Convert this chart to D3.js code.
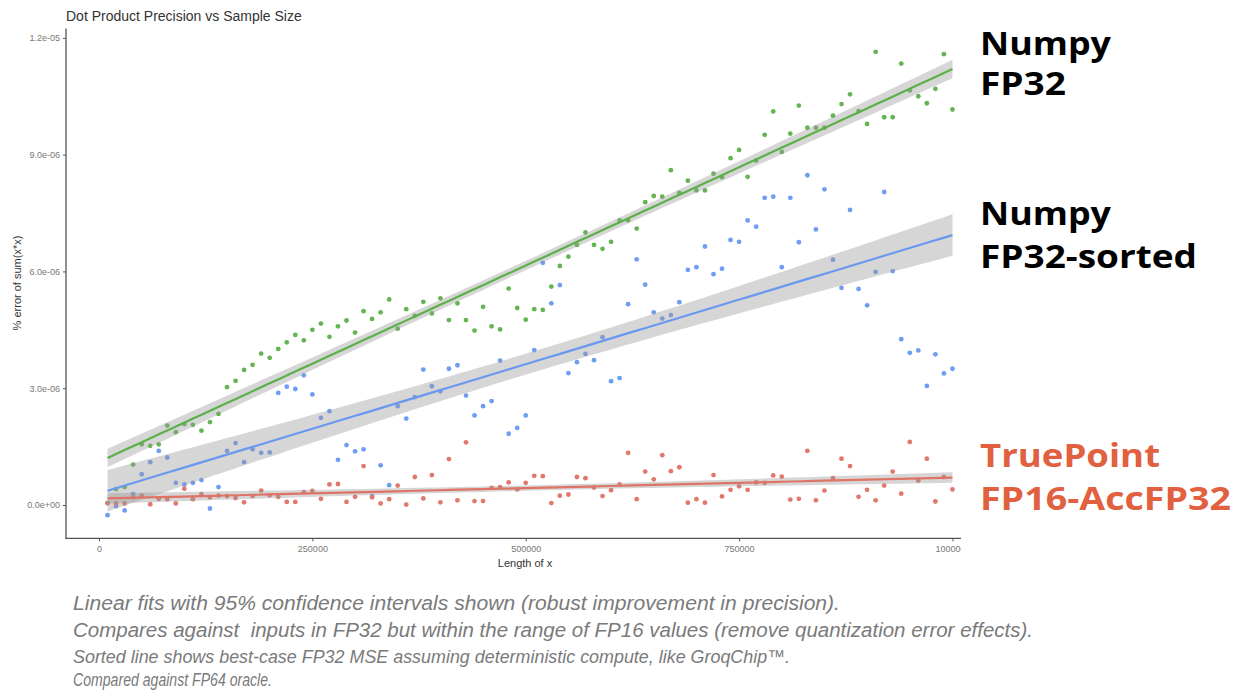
<!DOCTYPE html>
<html>
<head>
<meta charset="utf-8">
<script src="https://cdn.jsdelivr.net/npm/d3@7"></script>
<style>
  html, body { margin: 0; padding: 0; background: #fff; }
  svg { display: block; }
</style>
</head>
<body>
<svg id="chart" width="1238" height="690"></svg>
<script>
// ---------------- data ----------------
const sampleSizes = [10000,20000,30000,40000,50000,60000,70000,80000,90000,100000,
  110000,120000,130000,140000,150000,160000,170000,180000,190000,200000,
  210000,220000,230000,240000,250000,260000,270000,280000,290000,300000,
  310000,320000,330000,340000,350000,360000,370000,380000,390000,400000,
  410000,420000,430000,440000,450000,460000,470000,480000,490000,500000,
  510000,520000,530000,540000,550000,560000,570000,580000,590000,600000,
  610000,620000,630000,640000,650000,660000,670000,680000,690000,700000,
  710000,720000,730000,740000,750000,760000,770000,780000,790000,800000,
  810000,820000,830000,840000,850000,860000,870000,880000,890000,900000,
  910000,920000,930000,940000,950000,960000,970000,980000,990000,1000000];

// % error values, in units of 1e-06
const numpyFP32 = [0.05,0.41,0.46,1.04,1.56,1.52,1.56,2.04,1.87,2.08,
  2.06,1.91,2.13,2.34,3.03,3.19,3.47,3.60,3.89,3.78,
  4.01,4.18,4.37,4.23,4.50,4.66,4.32,4.59,4.74,4.43,
  4.98,4.78,4.95,5.28,4.53,5.03,4.86,5.22,4.92,5.31,
  4.75,5.18,4.75,4.48,5.09,4.59,4.51,5.56,5.06,4.76,
  5.03,5.01,5.61,6.14,6.38,6.68,7.00,6.68,6.58,6.76,
  7.31,7.31,7.10,7.78,7.94,7.92,8.60,8.02,8.33,8.08,
  8.08,8.51,8.42,8.91,9.12,8.43,8.85,9.51,10.11,9.07,
  9.54,10.26,9.69,9.69,9.69,10.00,10.30,10.55,10.12,9.79,
  11.64,9.96,9.96,11.34,10.65,10.50,10.32,10.69,11.58,10.16];

const numpyFP32Sorted = [-0.26,-0.03,-0.14,0.28,0.79,1.10,1.39,1.22,0.57,0.53,
  0.57,0.64,-0.09,0.46,1.39,1.59,1.10,1.43,1.34,1.35,
  2.88,3.04,2.98,3.33,2.84,2.24,2.41,1.16,1.54,1.38,
  1.43,0.23,1.02,0.51,2.54,2.22,2.77,3.48,3.05,2.92,
  3.50,3.59,2.81,2.30,2.54,2.67,3.71,1.83,1.98,2.30,
  3.98,6.22,5.18,5.65,3.39,3.67,3.88,3.72,4.31,3.18,
  3.26,5.16,6.31,5.66,4.95,4.79,4.88,5.21,6.04,6.11,
  6.64,5.93,6.07,6.81,6.76,7.31,7.15,7.89,7.92,6.11,
  7.89,6.75,8.47,7.08,8.11,6.30,5.58,7.58,5.55,5.13,
  5.99,8.04,6.01,4.26,3.91,3.97,3.06,3.87,3.38,3.50];

const truePoint = [0.05,0.04,0.04,0.20,0.24,0.02,0.16,0.15,0.04,0.42,
  0.15,0.28,0.20,0.24,0.23,0.18,0.07,0.23,0.37,0.25,
  0.21,0.08,0.08,0.33,0.36,0.16,0.53,0.54,0.08,0.21,
  1.00,0.20,0.04,0.15,0.50,0.01,0.72,0.17,0.77,0.07,
  1.18,0.12,1.61,0.10,0.10,0.44,0.46,0.58,0.40,0.57,
  0.75,0.74,0.05,0.24,0.27,0.72,0.69,0.45,0.23,0.38,
  0.53,1.34,0.15,0.86,0.66,1.28,0.87,0.97,0.06,0.15,
  0.06,0.77,0.22,0.39,0.48,0.39,0.58,0.57,0.76,0.73,
  0.14,0.16,1.39,0.12,0.37,0.69,1.19,1.00,0.21,0.39,
  0.12,0.50,0.86,0.29,1.62,0.63,1.19,0.09,0.72,0.40];

const yTickValues = [0, 3e-6, 6e-6, 9e-6, 1.2e-5];
const xTickValues = [0, 250000, 500000, 750000, 1000000];

const titleText = "Dot Product Precision vs Sample Size";
const xTitle = "Length of x";
const yTitle = "% error of sum(x*x)";
const sideLabels = [
  ["Numpy", "FP32"],
  ["Numpy", "FP32-sorted"],
  ["TruePoint", "FP16-AccFP32"]
];
const footnotes = [
  "Linear fits with 95% confidence intervals shown (robust improvement in precision).",
  "Compares against  inputs in FP32 but within the range of FP16 values (remove quantization error effects).",
  "Sorted line shows best-case FP32 MSE assuming deterministic compute, like GroqChip\u2122.",
  "Compared against FP64 oracle."
];

// ---------------- setup ----------------
const svg = d3.select("#chart");
const UNIT = 1e-6;

const x = d3.scaleLinear().domain([-39500, 1049500]).range([65.3, 994.7]);
const y = d3.scaleLinear().domain([-0.855e-6, 12.24e-6]).range([538.3, 28.5]);

const series = [
  {name: "numpy", values: numpyFP32, pt: "#64b453", line: "#5cb04a"},
  {name: "sorted", values: numpyFP32Sorted, pt: "#6e9df4", line: "#6a98f0"},
  {name: "truepoint", values: truePoint, pt: "#e0786c", line: "#df7466"}
];

// linear fit with 95% CI (like geom_smooth(method="lm"))
function linFit(xs, ys) {
  const n = xs.length;
  const xbar = d3.mean(xs), ybar = d3.mean(ys);
  let sxx = 0, sxy = 0;
  for (let i = 0; i < n; i++) { sxx += (xs[i]-xbar)**2; sxy += (xs[i]-xbar)*(ys[i]-ybar); }
  const b = sxy / sxx, a = ybar - b * xbar;
  let sse = 0;
  for (let i = 0; i < n; i++) sse += (ys[i] - (a + b*xs[i]))**2;
  const s = Math.sqrt(sse / (n - 2));
  const t = 1.9845;
  const grid = d3.range(80).map(i => d3.min(xs) + (d3.max(xs) - d3.min(xs)) * i / 79);
  return grid.map(gx => {
    const yh = a + b * gx;
    const se = s * Math.sqrt(1/n + (gx - xbar)**2 / sxx);
    return {x: gx, y: yh, lo: yh - t*se, hi: yh + t*se};
  });
}

svg.append("defs").append("clipPath").attr("id", "imgclip")
  .append("rect").attr("x", 0).attr("y", 0).attr("width", 961).attr("height", 690);

const plot = svg.append("g").attr("clip-path", "url(#imgclip)");

// points
series.forEach(s => {
  plot.append("g").selectAll("circle")
    .data(sampleSizes.map((sx, i) => ({x: sx, y: s.values[i] * UNIT})))
    .join("circle")
    .attr("cx", d => x(d.x))
    .attr("cy", d => y(d.y))
    .attr("r", 2.4)
    .attr("fill", s.pt);
});

// smooths
series.forEach(s => {
  const fit = linFit(sampleSizes, s.values.map(v => v * UNIT));
  plot.append("path").datum(fit)
    .attr("d", d3.area().x(d => x(d.x)).y0(d => y(d.lo)).y1(d => y(d.hi)))
    .attr("fill", "#999999").attr("fill-opacity", 0.4);
  plot.append("path").datum(fit)
    .attr("d", d3.line().x(d => x(d.x)).y(d => y(d.y)))
    .attr("fill", "none").attr("stroke", s.line).attr("stroke-width", 2.2);
});

// axes
function sciFmt(v) {
  if (v === 0) return "0.0e+00";
  const e = Math.floor(Math.log10(Math.abs(v)) + 1e-9);
  const m = v / Math.pow(10, e);
  return m.toFixed(1) + "e" + (e < 0 ? "-" : "+") + String(Math.abs(e)).padStart(2, "0");
}

const axisColor = "#555";
const yAxis = plot.append("g").attr("transform", "translate(66,0)")
  .call(d3.axisLeft(y).tickValues(yTickValues).tickFormat(sciFmt).tickSize(3).tickPadding(3));
const xAxis = plot.append("g").attr("transform", "translate(0,538.3)")
  .call(d3.axisBottom(x).tickValues(xTickValues).tickFormat(d3.format("d")).tickSize(3).tickPadding(4));

[yAxis, xAxis].forEach(g => {
  g.select(".domain").remove();
  g.selectAll(".tick line").attr("stroke", axisColor).attr("stroke-width", 1);
  g.selectAll(".tick text").attr("fill", "#777").attr("font-size", "9px")
    .attr("font-family", "Liberation Sans, Arial, sans-serif");
});

// axis lines (theme_classic)
plot.append("line").attr("x1", 66).attr("x2", 66).attr("y1", 28.5).attr("y2", 539)
  .attr("stroke", axisColor).attr("stroke-width", 1.3);
plot.append("line").attr("x1", 65.4).attr("x2", 994.7).attr("y1", 538.3).attr("y2", 538.3)
  .attr("stroke", axisColor).attr("stroke-width", 1.3);

// titles
svg.append("text").attr("x", 66).attr("y", 21).text(titleText)
  .attr("font-family", "Liberation Sans, Arial, sans-serif").attr("font-size", "14px").attr("fill", "#333");
svg.append("text").attr("x", 525).attr("y", 567).attr("text-anchor", "middle").text(xTitle)
  .attr("font-family", "Liberation Sans, Arial, sans-serif").attr("font-size", "11px").attr("fill", "#333");
svg.append("text").attr("transform", "translate(21,283) rotate(-90)").attr("text-anchor", "middle").text(yTitle)
  .attr("font-family", "Liberation Sans, Arial, sans-serif").attr("font-size", "11px").attr("fill", "#333");

// side labels
const sideY = [[55, 95], [225, 268], [467, 510]];
const sideW = [[131, 86], [131, 217], [180, 251]];
const sideColor = ["#000", "#000", "#e0603f"];
sideLabels.forEach((lines, i) => {
  lines.forEach((t, j) => {
    svg.append("text").attr("x", 980).attr("y", sideY[i][j]).text(t)
      .attr("font-family", "Open Sans, DejaVu Sans, sans-serif").attr("font-weight", 700)
      .attr("font-size", "32px").attr("fill", sideColor[i])
      .attr("textLength", sideW[i][j]).attr("lengthAdjust", "spacingAndGlyphs");
  });
});

// footnotes
const footY = [610, 637, 663, 686];
const footW = [767, 960, 717, 199];
const footSize = [20, 20, 18.3, 18.3];
footnotes.forEach((t, i) => {
  svg.append("text").attr("x", 73).attr("y", footY[i]).text(t)
    .style("white-space", "pre")
    .attr("font-family", "Liberation Sans Narrow, Liberation Sans, Arial, sans-serif")
    .attr("font-style", "italic").attr("font-size", footSize[i] + "px").attr("fill", "#7a7a7a")
    .attr("textLength", footW[i]).attr("lengthAdjust", "spacingAndGlyphs");
});
</script>
</body>
</html>
